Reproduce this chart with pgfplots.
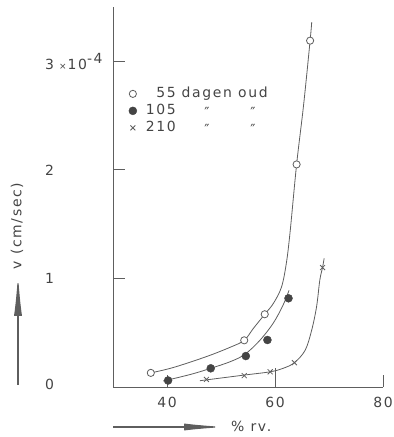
\documentclass[border=0pt]{standalone}
\usepackage{fontspec}
\setmainfont{DejaVu Sans}[LetterSpace=12]
\usepackage{pgfplots}
\pgfplotsset{compat=1.18}
\usetikzlibrary{arrows.meta}
\definecolor{ink}{HTML}{444444}
\definecolor{ln}{HTML}{5E5E5E}

\pgfplotstableread{
x y
37.0 0.13
41.2 0.18
47.3 0.28
51.7 0.366
54.3 0.43
56.0 0.54
58.1 0.67
59.7 0.77
61.2 0.92
62.1 1.14
62.8 1.43
64.0 2.05
65.3 2.60
66.5 3.19
66.8 3.36
}\curveA
\pgfplotstableread{
x y
39.3 0.055
44.3 0.115
48.1 0.172
51.7 0.233
54.4 0.30
57.2 0.43
59.7 0.59
61.5 0.755
62.6 0.89
}\curveB
\pgfplotstableread{
x y
46.1 0.058
51.0 0.089
54.3 0.11
59.1 0.14
61.5 0.172
63.6 0.224
65.6 0.34
66.8 0.525
67.7 0.74
68.3 0.985
68.8 1.10
69.1 1.185
}\curveC
\pgfplotstableread{
x y
37.0 0.13
54.3 0.43
58.1 0.67
64.0 2.05
66.5 3.19
}\ptsA
\pgfplotstableread{
x y
40.2 0.06
48.1 0.172
54.6 0.285
58.6 0.433
62.5 0.817
}\ptsB
\pgfplotstableread{
x y
47.3 0.07
54.3 0.105
59.1 0.14
63.6 0.224
68.8 1.10
}\ptsC

\newcommand{\ditto}{\raisebox{-3.5bp}{″}}

\begin{document}
\fontsize{14}{17}\selectfont
\begin{tikzpicture}
\path[use as bounding box] (0bp,0bp) rectangle (394bp,437bp);
\begin{axis}[
  at={(113bp,50bp)}, anchor=south west,
  scale only axis, width=270bp, height=380bp,
  xmin=30, xmax=80, ymin=0, ymax=3.5,
  axis x line=bottom, axis y line=left,
  axis line style={-, draw=ln, line width=0.9bp},
  tick style={draw=ln, line width=0.9bp},
  tick align=inside,
  major tick length=12bp,
  xtick={40,80}, xticklabels={40,80},
  extra x ticks={60}, extra x tick labels={60},
  extra x tick style={major tick length=19bp},
  ytick={0,1,2,3},
  yticklabels={\raisebox{5bp}{0},\raisebox{-2bp}{1},\raisebox{-1bp}{2},{3\hspace{5bp}{\small ×}\hspace{1bp}10\raisebox{0.8ex}{-4}}},
  yticklabel style={anchor=west, xshift=-68bp, inner sep=0pt, text=ink, font=\fontsize{14}{17}\selectfont},
  xticklabel style={anchor=north, yshift=-10bp, inner sep=0pt, text=ink, font=\fontsize{14}{17}\selectfont},
  /pgf/number format/assume math mode=true,
  clip=false,
  legend style={draw=none, fill=none, at={(axis cs:32.9,2.78)}, anchor=north west,
    row sep=0bp, inner sep=0pt,
    nodes={inner sep=2bp, text height=10bp, text depth=3bp, text=ink},
    font=\fontsize{14}{17}\selectfont},
  legend cell align=left,
]
\addplot[ln, line width=0.8bp, smooth, tension=0.55, forget plot] table {\curveA};
\addplot[ln, line width=0.8bp, smooth, tension=0.55, forget plot] table {\curveB};
\addplot[ln, line width=0.8bp, smooth, tension=0.55, forget plot] table {\curveC};
\addplot[only marks, mark=*, mark size=3.6bp, mark options={draw=ln, fill=white, line width=0.8bp}] table {\ptsA};
\addlegendentry{\makebox[37bp][r]{55}\makebox[62bp]{dagen}\makebox[30bp]{oud}}
\addplot[only marks, mark=*, mark size=4bp, mark options={draw=ink, fill=ink}] table {\ptsB};
\addlegendentry{\makebox[37bp][r]{105}\makebox[62bp]{\ditto}\makebox[30bp]{\ditto}}
\addplot[only marks, mark=x, mark size=3.5bp, mark options={draw=ln, line width=0.8bp}] table {\ptsC};
\addlegendentry{\makebox[37bp][r]{210}\makebox[62bp]{\ditto}\makebox[30bp]{\ditto}}
\end{axis}
\draw[ln, line width=1.2bp, -{Latex[length=42bp,width=8bp]}] (18bp,52bp) -- (18bp,163bp);
\node[rotate=90, text=ink, inner sep=0pt] at (17bp,211bp) {v (cm/sec)};
\draw[ln, line width=1.2bp, -{Latex[length=42bp,width=7bp]}] (113bp,10bp) -- (226bp,10bp);
\node[anchor=west, text=ink, inner sep=0pt] at (231bp,11bp) {\% rv.};
\end{tikzpicture}
\end{document}
